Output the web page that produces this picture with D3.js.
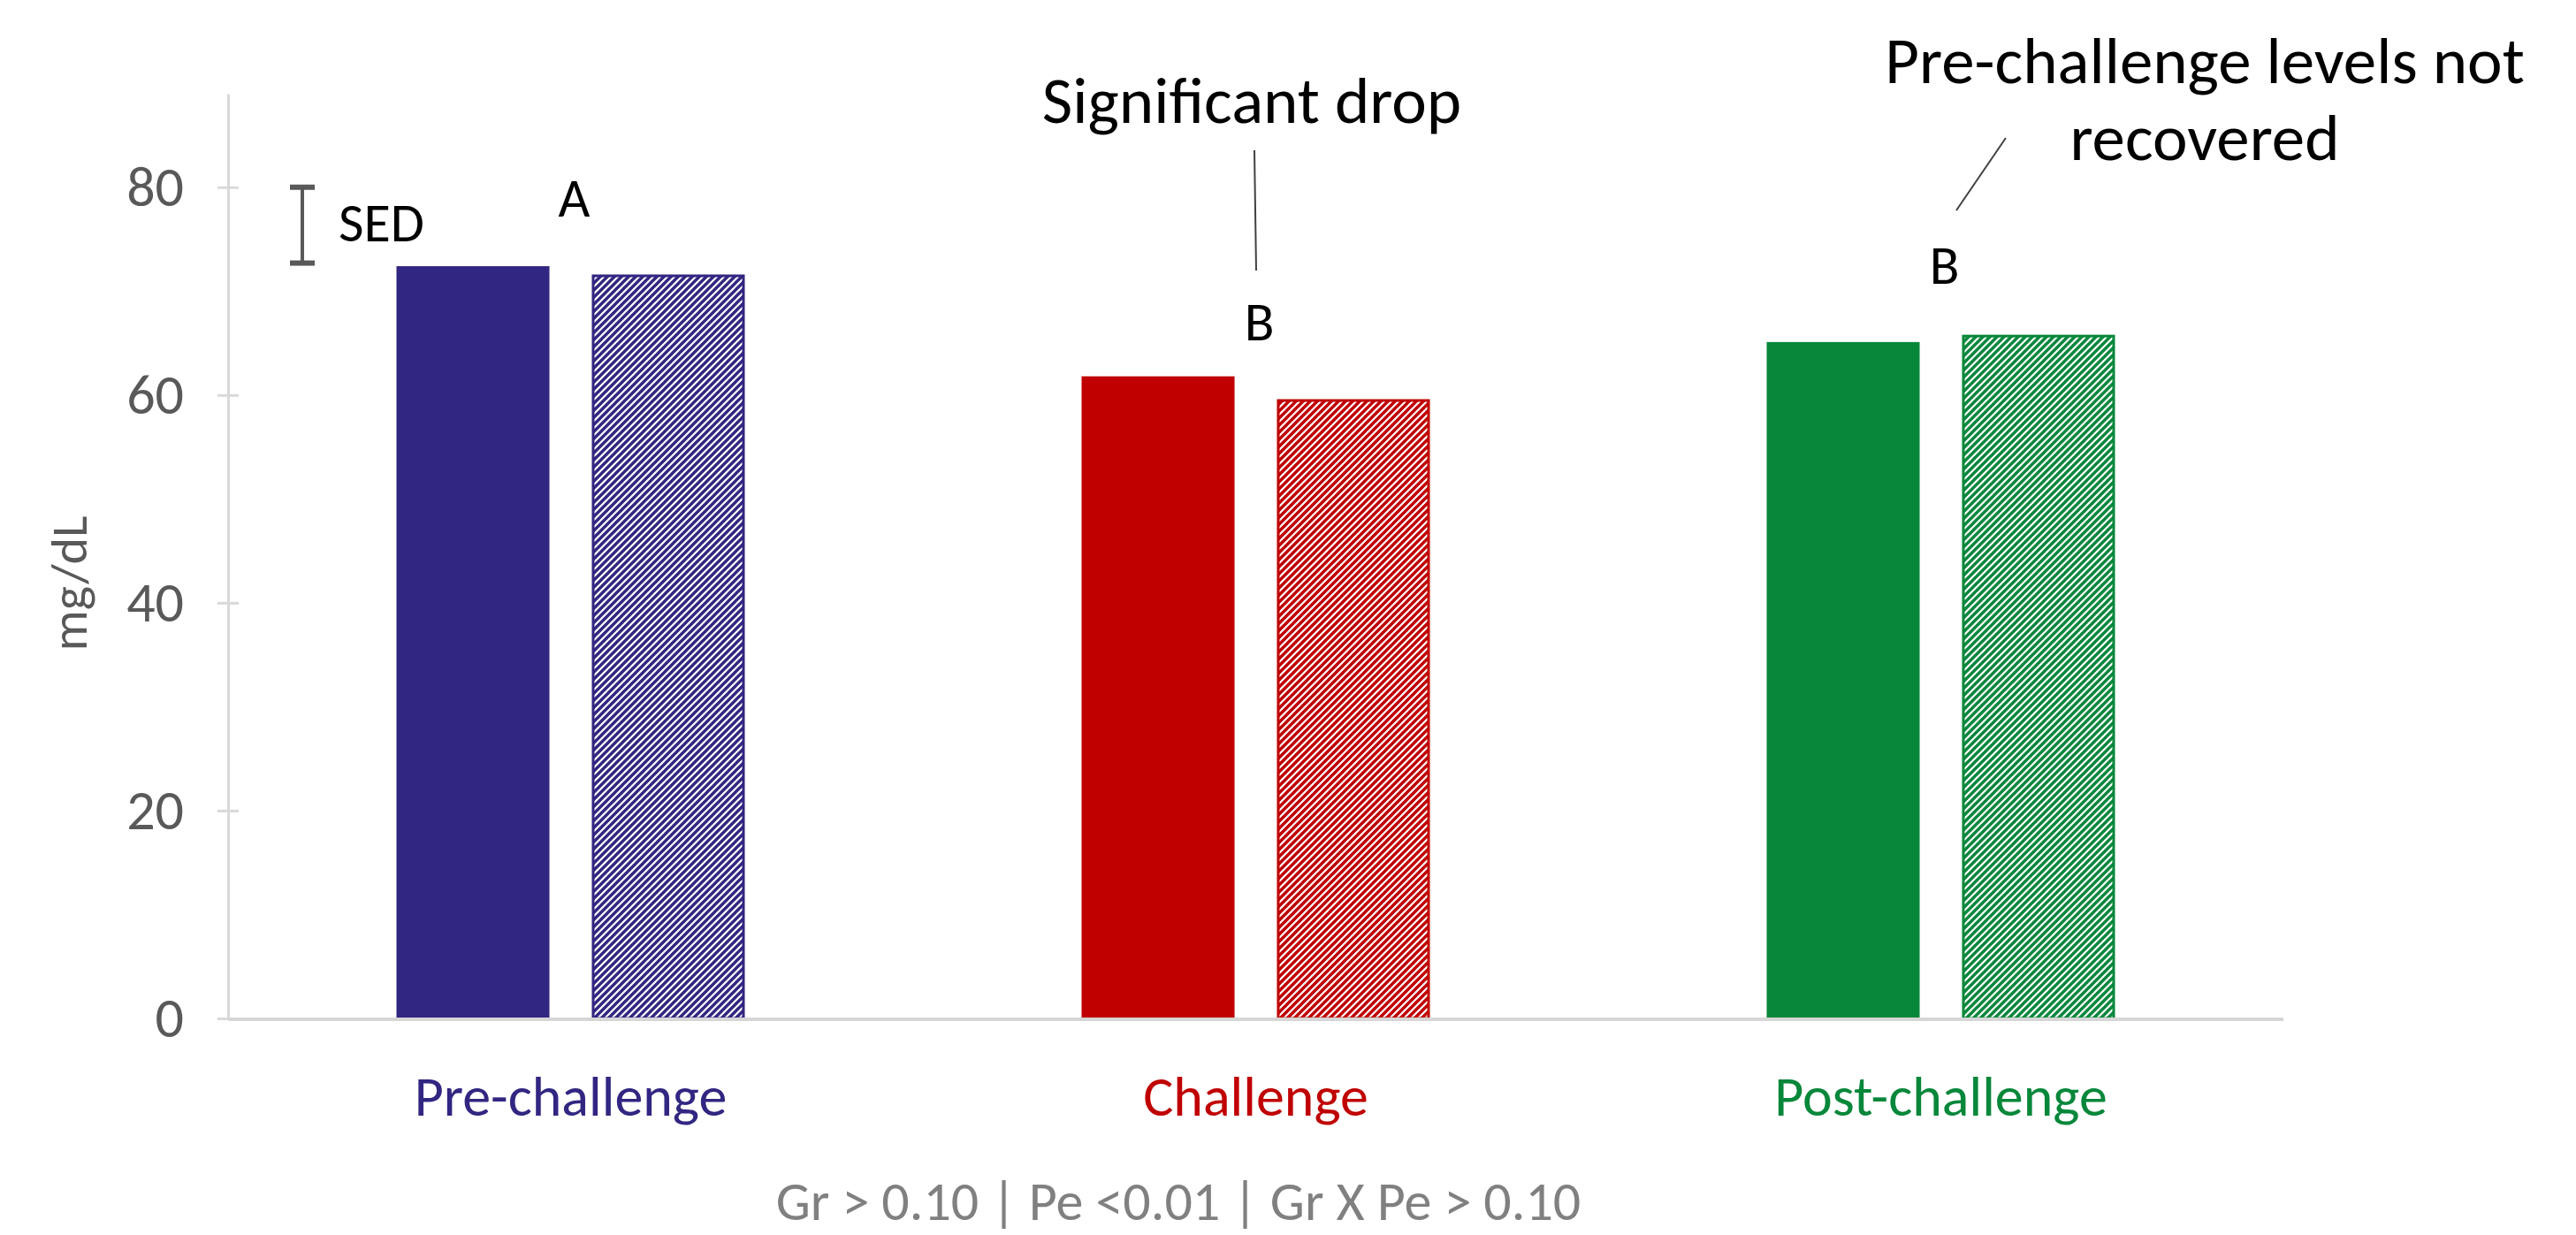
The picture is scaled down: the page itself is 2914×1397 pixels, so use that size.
<!DOCTYPE html>
<html>
<head>
<meta charset="utf-8">
<script src="https://cdn.jsdelivr.net/npm/d3@7"></script>
<style>
  html, body { margin: 0; padding: 0; background: #fff; }
  svg { display: block; font-family: Carlito, Calibri, Lato, sans-serif; }
</style>
</head>
<body>
<div id="chart"></div>
<script>
// Data
const categories = ['Pre-challenge', 'Challenge', 'Post-challenge'];
const groups = ['Group 1', 'Group 2'];
const solidValues = [72.4, 61.8, 65.1];
const hatchedValues = [71.6, 59.6, 65.8];
const letters = ['A', 'B', 'B'];
const letterLevels = [77.2, 65.3, 70.7];
const yTicks = [0, 20, 40, 60, 80];
const sedRange = [72.7, 80];
const colors = ['#312681', '#c00000', '#07873a'];
const footnote = 'Gr > 0.10 | Pe <0.01 | Gr X Pe > 0.10';

const W = 2914, H = 1397;
const svg = d3.select('#chart').append('svg')
  .attr('width', W)
  .attr('height', H);

// hatch patterns, one per colour
const defs = svg.append('defs');
colors.forEach((c, i) => {
  const p = defs.append('pattern')
    .attr('id', `hatch${i}`)
    .attr('patternUnits', 'userSpaceOnUse')
    .attr('width', 8)
    .attr('height', 8);
  p.append('rect').attr('width', 8).attr('height', 8).attr('fill', '#fff');
  p.append('path')
    .attr('d', 'M-2,2 L2,-2 M0,8 L8,0 M6,10 L10,6')
    .attr('stroke', c)
    .attr('stroke-width', 3.4);
});

// Scales
const x = d3.scaleBand().domain(categories).range([258, 2583]);
const xInner = d3.scaleBand().domain(groups).range([0, x.bandwidth()])
  .paddingInner(0.217).paddingOuter(0.862);
const y = d3.scaleLinear().domain([0, 89]).range([1152, 106]);

// Y axis
const yAxisG = svg.append('g')
  .attr('transform', `translate(${x.range()[0]},0)`)
  .call(d3.axisLeft(y).tickValues(yTicks).tickSize(0).tickPadding(50).tickSizeOuter(0))
  .attr('font-family', null)
  .attr('font-size', null);
yAxisG.select('.domain').attr('stroke', '#d9d9d9').attr('stroke-width', 3);
yAxisG.selectAll('.tick line')
  .attr('x1', -12).attr('x2', 12)
  .attr('stroke', '#d9d9d9').attr('stroke-width', 3);
yAxisG.selectAll('.tick text')
  .attr('fill', '#595959')
  .attr('font-size', 64);

// bars
const barData = [];
categories.forEach((cat, i) => {
  barData.push({ cat, group: groups[0], value: solidValues[i], ci: i, hatched: false });
  barData.push({ cat, group: groups[1], value: hatchedValues[i], ci: i, hatched: true });
});

svg.append('g').selectAll('rect')
  .data(barData)
  .join('rect')
  .attr('x', d => x(d.cat) + xInner(d.group) + (d.hatched ? 1.5 : 0))
  .attr('y', d => y(d.value) + (d.hatched ? 1.5 : 0))
  .attr('width', d => xInner.bandwidth() - (d.hatched ? 3 : 0))
  .attr('height', d => y(0) - y(d.value) - (d.hatched ? 1.5 : 0))
  .attr('fill', d => d.hatched ? `url(#hatch${d.ci})` : colors[d.ci])
  .attr('stroke', d => d.hatched ? colors[d.ci] : 'none')
  .attr('stroke-width', 3);

// X axis line
svg.append('line')
  .attr('x1', x.range()[0]).attr('x2', x.range()[1])
  .attr('y1', y(0) + 1).attr('y2', y(0) + 1)
  .attr('stroke', '#d6d6d6')
  .attr('stroke-width', 4);

// category labels
svg.append('g').selectAll('text')
  .data(categories)
  .join('text')
  .attr('x', d => x(d) + x.bandwidth() / 2)
  .attr('y', 1262)
  .attr('text-anchor', 'middle')
  .attr('font-size', 64)
  .attr('fill', (d, i) => colors[i])
  .text(d => d);

// significance letters
svg.append('g').selectAll('text')
  .data(letters)
  .join('text')
  .attr('x', (d, i) => x(categories[i]) + x.bandwidth() / 2 + 4)
  .attr('y', (d, i) => y(letterLevels[i]))
  .attr('text-anchor', 'middle')
  .attr('font-size', 62)
  .attr('fill', '#000')
  .text(d => d);

// SED bar
const sedX = 342;
const sedG = svg.append('g').attr('stroke', '#595959');
sedG.append('line')
  .attr('x1', sedX).attr('x2', sedX)
  .attr('y1', y(sedRange[1])).attr('y2', y(sedRange[0]))
  .attr('stroke-width', 4);
sedG.selectAll('.cap')
  .data(sedRange)
  .join('line')
  .attr('x1', sedX - 14).attr('x2', sedX + 14)
  .attr('y1', d => y(d)).attr('y2', d => y(d))
  .attr('stroke-width', 6);
svg.append('text')
  .attr('x', 383)
  .attr('y', 273)
  .attr('font-size', 62)
  .attr('fill', '#000')
  .text('SED');

// y axis title
svg.append('text')
  .attr('transform', 'translate(98,660) rotate(-90)')
  .attr('text-anchor', 'middle')
  .attr('font-size', 58)
  .attr('fill', '#595959')
  .text('mg/dL');

// annotations
svg.append('text')
  .attr('x', 1416)
  .attr('y', 139)
  .attr('text-anchor', 'middle')
  .attr('font-size', 75)
  .text('Significant drop');
svg.append('line')
  .attr('x1', 1419).attr('y1', 170)
  .attr('x2', 1421).attr('y2', 306)
  .attr('stroke', '#404040').attr('stroke-width', 2);

const note = svg.append('text')
  .attr('text-anchor', 'middle')
  .attr('font-size', 75);
note.append('tspan').attr('x', 2494).attr('y', 94).text('Pre-challenge levels not');
note.append('tspan').attr('x', 2494).attr('y', 181).text('recovered');
svg.append('line')
  .attr('x1', 2269).attr('y1', 156)
  .attr('x2', 2213).attr('y2', 238)
  .attr('stroke', '#404040').attr('stroke-width', 2);

// footnote
svg.append('text')
  .attr('x', 1333)
  .attr('y', 1380)
  .attr('text-anchor', 'middle')
  .attr('font-size', 62)
  .attr('fill', '#808080')
  .text(footnote);
</script>
</body>
</html>
